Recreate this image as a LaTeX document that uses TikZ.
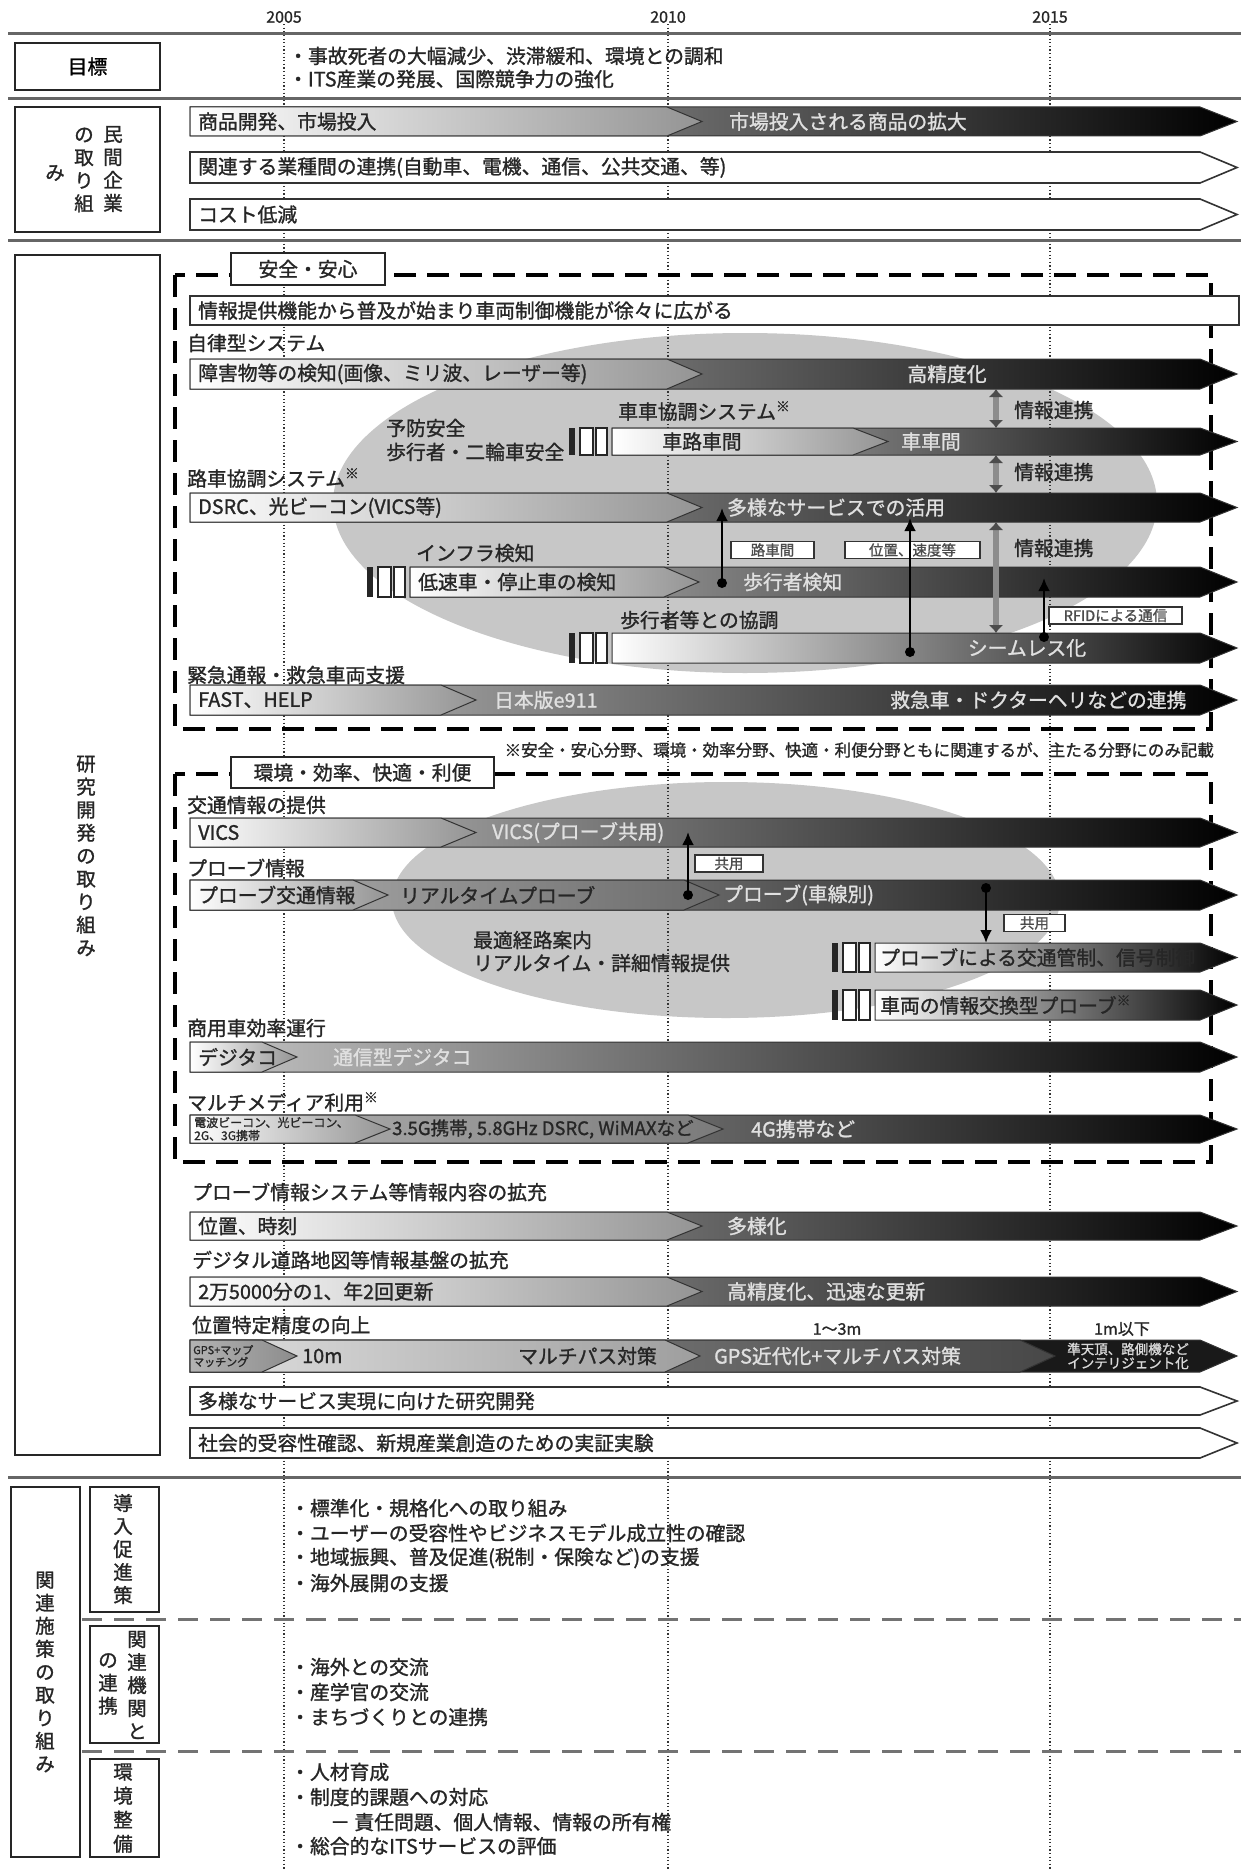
\documentclass[tikz,border=0pt]{standalone}
\usepackage{fontspec}
\setmainfont{Noto Sans CJK JP}[FakeBold=1.2]
\usetikzlibrary{arrows.meta, positioning}

\newcommand{\fsz}[1]{\fontsize{#1}{#1}\selectfont}
% arrow shaped bar: [style]{x start}{top}{bottom}
\newcommand{\arrowbar}[4][]{\path[#1] (#2,#3) -- (1200,#3) -- (1237,{(#3+#4)/2}) -- (1200,#4) -- (#2,#4) -- cycle;}
% segment ending in a chevron: [style]{x start}{chevron x}{top}{bottom}
\newcommand{\chevseg}[5][]{\path[#1] (#2,#4) -- (#3,#4) -- ({#3+35},{(#4+#5)/2}) -- (#3,#5) -- (#2,#5) -- cycle;}
% three marks in front of a bar: {bar x}{top}{bottom}
\newcommand{\stripes}[3]{%
  \fill[black!85] ({#1-43},#2) rectangle ({#1-37},#3);
  \path[stripe] ({#1-32},#2) rectangle ({#1-19},#3);
  \path[stripe] ({#1-16},#2) rectangle ({#1-5},#3);}

\tikzset{
  sepline/.style={draw=black!60, line width=3pt},
  yearline/.style={draw=black!80, line width=1.2pt, dash pattern=on 1.2pt off 2.4pt},
  yearlbl/.style={font=\fsz{16}, text=black!85, inner sep=1pt},
  headbox/.style={draw=black!85, line width=2.2pt, fill=white, inner sep=0pt},
  vert/.style={align=center, inner sep=0pt, text=black!85, font=\fontsize{19.5}{23}\selectfont},
  groupbox/.style={draw=black, line width=3.5pt, dash pattern=on 22pt off 11pt},
  grouptag/.style={draw=black!85, line width=2pt, fill=white, inner sep=0pt, minimum height=31pt, text=black!85, font=\fsz{19.8}},
  dashsep/.style={draw=black!55, line width=3pt, dash pattern=on 20pt off 12pt},
  whitebar/.style={draw=black!80, line width=1.6pt, fill=white},
  darkbar/.style={draw=black!80, line width=1pt, left color=black!22, right color=black},
  seambar/.style={draw=black!80, line width=1pt, left color=white, right color=black},
  lightseg/.style={draw=black!80, line width=1pt, left color=white, right color=black!42},
  stripe/.style={draw=black!85, line width=1.2pt, fill=white},
  txt/.style={anchor=west, inner sep=0pt, text=black!85, font=\fsz{19.8}},
  inv/.style={anchor=west, inner sep=0pt, text=white!88!black, font=\fsz{19.8}},
  small/.style={anchor=west, inner sep=0pt, align=left, text=black!85, font=\fontsize{12}{13}\selectfont},
  tag/.style={draw=black!80, line width=1.8pt, fill=white, inner sep=0pt, minimum height=17pt, text=black!70, font=\fsz{14.5}},
  infolink/.style={draw=black!45, line width=6pt, {Latex[length=8pt,width=15pt,color=black!70]}-{Latex[length=8pt,width=15pt,color=black!70]}},
  link/.style={draw=black, line width=2.5pt, -{Latex[length=13pt,width=12pt]}},
}

\begin{document}
\begin{tikzpicture}[x=1pt, y=-1pt]
\useasboundingbox[fill=white] (0,0) rectangle (1241,1870);

% gray fields
\fill[black!22] (745,503) ellipse [x radius=412pt, y radius=170pt];
\fill[black!22] (726,900) ellipse [x radius=334pt, y radius=118pt];

% years
\foreach \yr/\xx in {2005/284, 2010/668, 2015/1050} {
  \node[yearlbl] (y\yr) at (\xx,17) {\yr};
  \draw[yearline] (y\yr.south) -- (\xx,1870);
}
\foreach \yy in {34,99,241,1477} \draw[sepline] (8,\yy) -- (1241,\yy);

% left headings
\node[headbox, minimum width=145, minimum height=47] (goal) at (87.5,66.5) {\fsz{19.8}目標};
\node[headbox, minimum width=145, minimum height=125] (priv) at (87.5,169.5) {};
\node[vert] (priv1) at (113,169) {民\\間\\企\\業};
\node[vert] (priv2) at (84,170) {の\\取\\り\\組};
\node[vert] (priv3) at (55,173) {み};
\node[headbox, minimum width=145, minimum height=1200] (rnd) at (87.5,855) {};
\node[vert] (rndt) at (86,856) {研\\究\\開\\発\\の\\取\\り\\組\\み};
\node[headbox, minimum width=69, minimum height=370] (rel) at (45.5,1672) {};
\node[vert] (relt) at (45,1672) {関\\連\\施\\策\\の\\取\\り\\組\\み};
\node[headbox, minimum width=69, minimum height=125] (sub1) at (124.5,1549.5) {};
\node[vert] (sub1t) at (123,1549) {導\\入\\促\\進\\策};
\node[headbox, minimum width=69, minimum height=117] (sub2) at (124.5,1684.5) {};
\node[vert] (sub2a) at (137,1685) {関\\連\\機\\関\\と};
\node[vert] (sub2b) at (108,1684) {の\\連\\携};
\node[headbox, minimum width=69, minimum height=98] (sub3) at (124.5,1808) {};
\node[vert, font=\fontsize{19.5}{24}\selectfont] (sub3t) at (123,1808) {環\\境\\整\\備};

% goals
\node[txt] (goal1) at (288,56) {・事故死者の大幅減少、渋滞緩和、環境との調和};
\node[txt] (goal2) at (288,79) {・ITS産業の発展、国際競争力の強化};

% private sector
\arrowbar[darkbar]{190}{107}{136}
\chevseg[lightseg]{190}{667}{107}{136}
\node[txt] (b1a) at (198,121.5) {商品開発、市場投入};
\node[inv] (b1b) at (729,121.5) {市場投入される商品の拡大};
\arrowbar[whitebar]{190}{152}{183}
\node[txt] (b2) at (198,167.5) {関連する業種間の連携(自動車、電機、通信、公共交通、等)};
\arrowbar[whitebar]{190}{199}{230}
\node[txt] (b3) at (198,214.5) {コスト低減};

% safety group
\draw[groupbox] (175,275) rectangle (1211,729);
\node[grouptag, minimum width=154] (safe) at (308,269) {安全・安心};
\draw[whitebar] (190,296) rectangle (1239,325);
\node[txt] (r0) at (198,310.5) {情報提供機能から普及が始まり車両制御機能が徐々に広がる};

\node[txt] (auto) at (187,343) {自律型システム};
\arrowbar[darkbar]{190}{359}{389}
\chevseg[lightseg]{190}{667}{359}{389}
\node[txt] (b4a) at (198,374) {障害物等の検知(画像、ミリ波、レーザー等)};
\node[inv, anchor=center] (b4b) at (947,374) {高精度化};

\node[txt] (v2v) at (618,411) {車車協調システム\textsuperscript{※}};
\node[txt] (prev1) at (386,428) {予防安全};
\node[txt] (prev2) at (386,452) {歩行者・二輪車安全};
\stripes{612}{428}{455}
\arrowbar[darkbar]{612}{428}{455}
\chevseg[lightseg]{612}{853}{428}{455}
\node[txt, anchor=center] (b5a) at (702,441.5) {車路車間};
\node[inv, anchor=center] (b5b) at (931,441.5) {車車間};

\node[txt] (r2v) at (187,478) {路車協調システム\textsuperscript{※}};
\arrowbar[darkbar]{190}{493}{522}
\chevseg[lightseg]{190}{667}{493}{522}
\node[txt] (b6a) at (198,507.5) {DSRC、光ビーコン(VICS等)};
\node[inv] (b6b) at (727,507.5) {多様なサービスでの活用};

\node[txt] (infra) at (416,553) {インフラ検知};
\stripes{410}{567}{597}
\arrowbar[darkbar]{410}{567}{597}
\chevseg[lightseg]{410}{664}{567}{597}
\node[txt] (b7a) at (418,582) {低速車・停止車の検知};
\node[inv] (b7b) at (743,582) {歩行者検知};

\node[txt] (ped) at (620,620) {歩行者等との協調};
\stripes{612}{633}{663}
\arrowbar[seambar]{612}{633}{663}
\node[inv, anchor=center] (b8) at (1027,648) {シームレス化};

\node[txt] (emg) at (187,675) {緊急通報・救急車両支援};
\arrowbar[darkbar]{190}{685}{715}
\chevseg[lightseg]{190}{441}{685}{715}
\node[txt] (b9a) at (198,700) {FAST、HELP};
\node[inv] (b9b) at (494,700) {日本版e911};
\node[inv] (b9c) at (890,700) {救急車・ドクターヘリなどの連携};

% info links and tags
\node[txt] (il1) at (1014,410) {情報連携};
\node[txt] (il2) at (1014,472) {情報連携};
\node[txt] (il3) at (1014,548) {情報連携};
\draw[infolink] (996,389) -- (996,428);
\draw[infolink] (996,455) -- (996,493);
\draw[infolink] (996,522) -- (996,633);
\node[tag, minimum width=83] (tg1) at (772.5,550) {路車間};
\node[tag, minimum width=135] (tg2) at (912.5,550) {位置、速度等};
\node[tag, minimum width=133] (tg3) at (1115.5,615.5) {RFIDによる通信};
\coordinate (a1s) at (722,583); \coordinate (a1e) at (722,508);
\coordinate (a2s) at (910,652); \coordinate (a2e) at (910,518);
\coordinate (a3s) at (1044,637); \coordinate (a3e) at (1044,578);
\fill (a1s) circle (5pt); \draw[link] (a1s) -- (a1e);
\fill (a2s) circle (5pt); \draw[link] (a2s) -- (a2e);
\fill (a3s) circle (5pt); \draw[link] (a3s) -- (a3e);

\node[anchor=east, inner sep=0pt, text=black!85, font=\fsz{16.5}] (note) at (1214,750)
  {※安全・安心分野、環境・効率分野、快適・利便分野ともに関連するが、主たる分野にのみ記載};

% environment group
\draw[groupbox] (175,774) rectangle (1211,1162);
\node[grouptag, minimum width=263] (env) at (362.5,772.5) {環境・効率、快適・利便};

\node[txt] (traf) at (187,805) {交通情報の提供};
\arrowbar[darkbar]{190}{818}{847}
\chevseg[lightseg]{190}{441}{818}{847}
\node[txt] (b10a) at (198,832.5) {VICS};
\node[inv] (b10b) at (492,832.5) {VICS(プローブ共用)};

\node[txt] (prb) at (187,868) {プローブ情報};
\arrowbar[darkbar]{190}{880}{910}
\chevseg[draw=black!80, line width=1pt, left color=black!30, right color=black!58]{190}{684}{880}{910}
\chevseg[lightseg]{190}{353}{880}{910}
\node[txt] (b11a) at (198,895) {プローブ交通情報};
\node[txt] (b11b) at (400,895) {リアルタイムプローブ};
\node[inv] (b11c) at (723,895) {プローブ(車線別)};

\node[txt] (route1) at (473,940) {最適経路案内};
\node[txt] (route2) at (473,963) {リアルタイム・詳細情報提供};
\stripes{875}{943}{972}
\arrowbar[seambar]{875}{943}{972}
\node[txt] (b12) at (880,957.5) {プローブによる交通管制、信号制御};
\stripes{875}{990}{1020}
\arrowbar[seambar]{875}{990}{1020}
\node[txt] (b13) at (880,1005) {車両の情報交換型プローブ\textsuperscript{※}};

\node[tag, minimum width=68] (tg4) at (729,863.5) {共用};
\node[tag, minimum width=61] (tg5) at (1034.5,923) {共用};
\coordinate (a4s) at (688,895); \coordinate (a4e) at (688,832);
\coordinate (a5s) at (986,888); \coordinate (a5e) at (986,943);
\fill (a4s) circle (5pt); \draw[link] (a4s) -- (a4e);
\fill (a5s) circle (5pt); \draw[link] (a5s) -- (a5e);

\node[txt] (com) at (187,1028) {商用車効率運行};
\arrowbar[darkbar]{190}{1042}{1072}
\chevseg[lightseg]{190}{262}{1042}{1072}
\node[txt] (b14a) at (198,1057) {デジタコ};
\node[inv] (b14b) at (333,1057) {通信型デジタコ};

\node[txt] (mm) at (187,1102) {マルチメディア利用\textsuperscript{※}};
\arrowbar[darkbar]{190}{1115}{1143}
\chevseg[draw=black!80, line width=1pt, left color=black!28, right color=black!52]{190}{688}{1115}{1143}
\chevseg[lightseg]{190}{355}{1115}{1143}
\node[small] (b15a) at (194,1129) {電波ビーコン、光ビーコン、\\2G、3G携帯};
\node[txt, font=\fsz{18.5}] (b15b) at (392,1129) {3.5G携帯, 5.8GHz DSRC, WiMAXなど};
\node[inv] (b15c) at (751,1129) {4G携帯など};

% research items
\node[txt] (prx) at (192,1192) {プローブ情報システム等情報内容の拡充};
\arrowbar[darkbar]{190}{1212}{1240}
\chevseg[lightseg]{190}{667}{1212}{1240}
\node[txt] (b16a) at (198,1226) {位置、時刻};
\node[inv] (b16b) at (727,1226) {多様化};

\node[txt] (map) at (192,1260) {デジタル道路地図等情報基盤の拡充};
\arrowbar[darkbar]{190}{1277}{1306}
\chevseg[lightseg]{190}{667}{1277}{1306}
\node[txt] (b17a) at (198,1291.5) {2万5000分の1、年2回更新};
\node[inv] (b17b) at (727,1291.5) {高精度化、迅速な更新};

\node[txt] (pos) at (192,1325) {位置特定精度の向上};
\node[txt, anchor=center, font=\fsz{16}] (acc1) at (837,1329) {1～3m};
\node[txt, anchor=center, font=\fsz{16}] (acc2) at (1122,1329) {1m以下};
\arrowbar[draw=black!80, line width=1pt, fill=black!90]{190}{1340}{1372}
\chevseg[draw=black!80, line width=1pt, left color=black!40, right color=black!72]{190}{1020}{1340}{1372}
\chevseg[draw=black!80, line width=1pt, left color=black!12, right color=black!38]{190}{665}{1340}{1372}
\chevseg[draw=black!80, line width=1pt, left color=black!30, right color=black!45]{190}{262}{1340}{1372}
\node[small, font=\fontsize{11}{12}\selectfont] (b18a) at (193,1356) {GPS+マップ\\マッチング};
\node[txt] (b18b) at (302,1356) {10m};
\node[txt, anchor=east] (b18c) at (657,1356) {マルチパス対策};
\node[inv] (b18d) at (714,1356) {GPS近代化+マルチパス対策};
\node[align=center, inner sep=0pt, text=white!85!black, font=\fontsize{13.5}{14}\selectfont] (b18e) at (1128,1356) {準天頂、路側機など\\インテリジェント化};

\arrowbar[whitebar]{190}{1387}{1415}
\node[txt] (b19) at (198,1401) {多様なサービス実現に向けた研究開発};
\arrowbar[whitebar]{190}{1428}{1458}
\node[txt] (b20) at (198,1443) {社会的受容性確認、新規産業創造のための実証実験};

% related measures
\draw[dashsep] (82,1619) -- (1241,1619);
\draw[dashsep] (82,1751) -- (1241,1751);
\node[txt] (m1) at (290,1508) {・標準化・規格化への取り組み};
\node[txt] (m2) at (290,1533) {・ユーザーの受容性やビジネスモデル成立性の確認};
\node[txt] (m3) at (290,1558) {・地域振興、普及促進(税制・保険など)の支援};
\node[txt] (m4) at (290,1583) {・海外展開の支援};
\node[txt] (m5) at (290,1667) {・海外との交流};
\node[txt] (m6) at (290,1692) {・産学官の交流};
\node[txt] (m7) at (290,1717) {・まちづくりとの連携};
\node[txt] (m8) at (290,1772) {・人材育成};
\node[txt] (m9) at (290,1797) {・制度的課題への対応};
\node[txt] (m10) at (330,1822) {－ 責任問題、個人情報、情報の所有権};
\node[txt] (m11) at (290,1846) {・総合的なITSサービスの評価};
\end{tikzpicture}
\end{document}
